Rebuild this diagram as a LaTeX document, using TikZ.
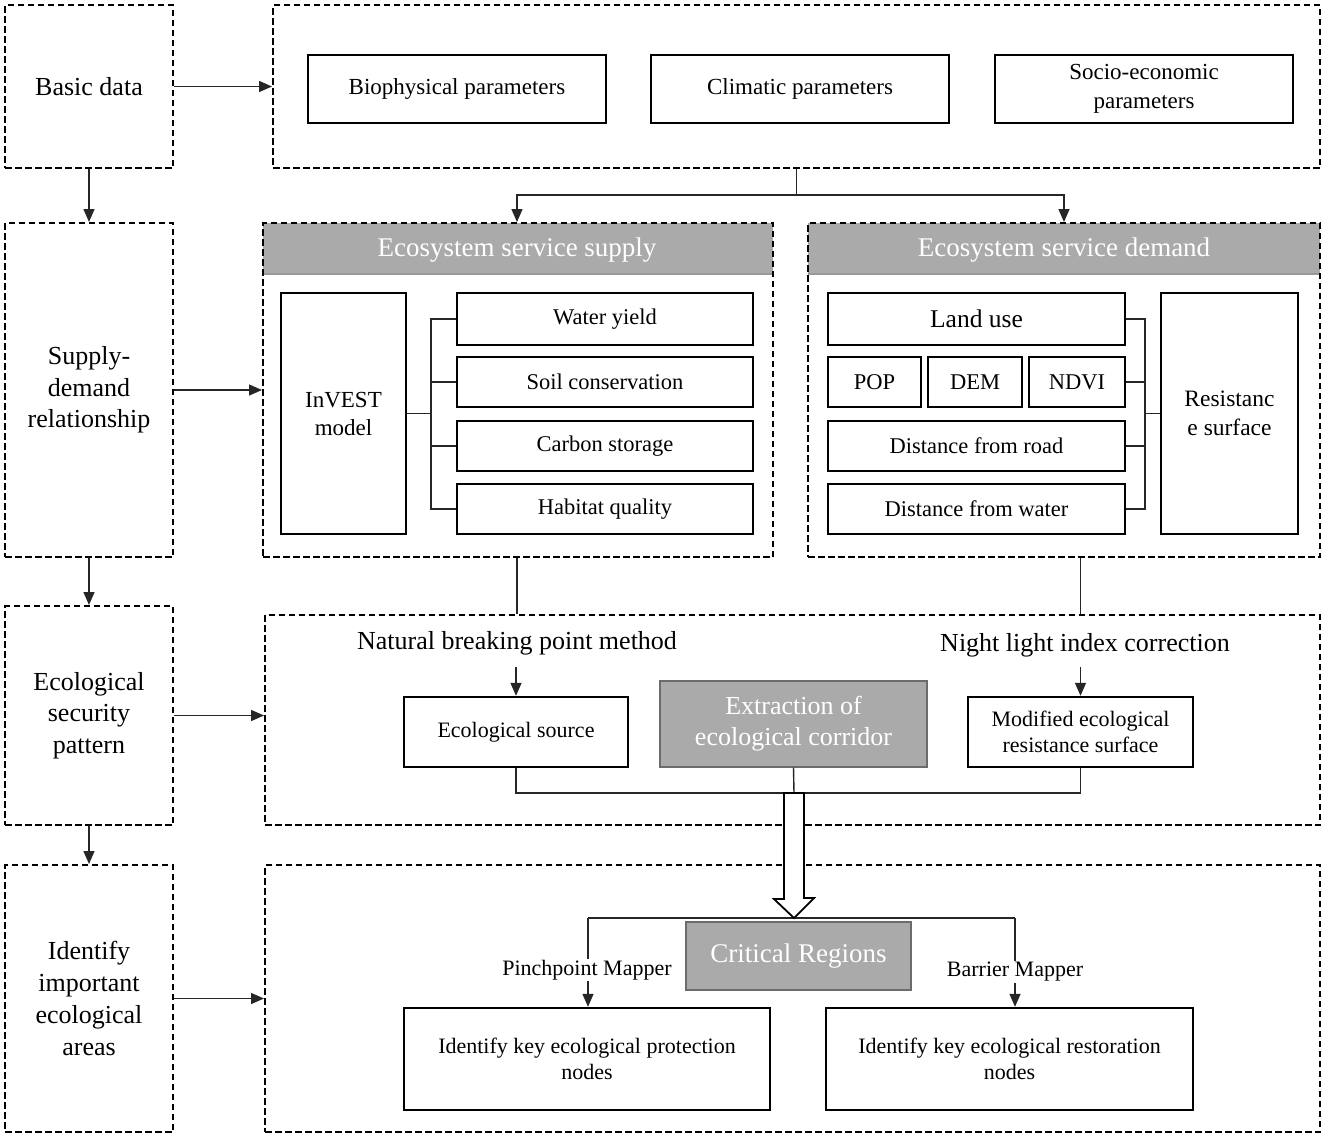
\documentclass[tikz,border=0pt]{standalone}
\usepackage{fontspec}
\setmainfont{Liberation Serif}
\usetikzlibrary{arrows.meta}
\newcommand{\fsz}[1]{\fontsize{#1}{#1}\selectfont}
\begin{document}
\begin{tikzpicture}[x=1pt,y=-1pt,
  dbox/.style={draw, line width=2pt, dash pattern=on 6.5pt off 3.5pt, inner sep=0pt, align=center},
  sbox/.style={draw, line width=2.4pt, inner sep=0pt, align=center},
  gbox/.style={fill=gray!67, draw=gray!85!black, line width=1.4pt, text=white, inner sep=0pt, align=center},
  conn/.style={line width=1.4pt, draw=black!85},
  arr/.style={conn, -{Triangle[length=13pt,width=11pt]}},
  lab/.style={inner sep=0pt, align=center}]
\fill[white] (0,0) rectangle (1325,1138);
\useasboundingbox (0,0) rectangle (1325,1138);

% left column
\node[dbox, minimum width=168pt, minimum height=163pt, font=\fsz{26}] (bd) at (89,86.5) {Basic data};
\node[dbox, minimum width=168pt, minimum height=334pt, font=\fsz{26}] (sd) at (89,390) {Supply-\\[5.5pt]demand\\[5.5pt]relationship};
\node[dbox, minimum width=168pt, minimum height=219pt, font=\fsz{26}] (espl) at (89,715.5) {Ecological\\[5.5pt]security\\[5.5pt]pattern};
\node[dbox, minimum width=168pt, minimum height=267pt, font=\fsz{26}] (iea) at (89,998.5) {Identify\\[6pt]important\\[6pt]ecological\\[6pt]areas};

% top box
\node[dbox, minimum width=1047pt, minimum height=163pt] (top) at (796.5,86.5) {};
\node[sbox, minimum width=298pt, minimum height=68pt, font=\fsz{23}] (bio) at (457,89) {Biophysical parameters};
\node[sbox, minimum width=298pt, minimum height=68pt, font=\fsz{23}] (cli) at (800,89) {Climatic parameters};
\node[sbox, minimum width=298pt, minimum height=68pt, font=\fsz{23}] (soc) at (1144,89) {Socio-economic\\[6pt]parameters};

% supply
\fill[gray!67] (263,223) rectangle (773,274);
\draw[gray!80, line width=1.4pt] (263,274) -- (773,274);
\node[dbox, minimum width=510pt, minimum height=334pt] (sup) at (518,390) {};
\node[lab, text=white, font=\fsz{27}] (suph) at (517,250) {Ecosystem service supply};
\node[sbox, minimum width=125pt, minimum height=241pt, font=\fsz{23}] (inv) at (343.5,413.5) {InVEST\\[5pt]model};
\node[sbox, minimum width=296pt, minimum height=52pt, font=\fsz{22.5}] (wy) at (605,319) {Water yield};
\node[sbox, minimum width=296pt, minimum height=50pt, font=\fsz{22.5}] (sc) at (605,382) {Soil conservation};
\node[sbox, minimum width=296pt, minimum height=50pt, font=\fsz{22.5}] (cs) at (605,446) {Carbon storage};
\node[sbox, minimum width=296pt, minimum height=50pt, font=\fsz{22.5}] (hq) at (605,509) {Habitat quality};
\coordinate (bs) at (431,413.5);
\draw[conn] (inv.east |- bs) -- (bs);
\draw[conn] (wy.west) -| (bs |- wy.west) -- (bs |- hq.west) -- (hq.west);
\draw[conn] (sc.west) -- (bs |- sc.west);
\draw[conn] (cs.west) -- (bs |- cs.west);

% demand
\fill[gray!67] (808,223) rectangle (1320,274);
\draw[gray!80, line width=1.4pt] (808,274) -- (1320,274);
\node[dbox, minimum width=512pt, minimum height=334pt] (dem) at (1064,390) {};
\node[lab, text=white, font=\fsz{27}] (demh) at (1064,250) {Ecosystem service demand};
\node[sbox, minimum width=297pt, minimum height=52pt, font=\fsz{25.5}] (lu) at (976.5,319) {Land use};
\node[sbox, minimum width=93pt, minimum height=50pt, font=\fsz{22.5}] (pop) at (874.5,382) {POP};
\node[sbox, minimum width=94pt, minimum height=50pt, font=\fsz{22.5}] (dm) at (975,382) {DEM};
\node[sbox, minimum width=96pt, minimum height=50pt, font=\fsz{22.5}] (nd) at (1077,382) {NDVI};
\node[sbox, minimum width=297pt, minimum height=50pt, font=\fsz{22.5}] (dr) at (976.5,446) {Distance from road};
\node[sbox, minimum width=297pt, minimum height=50pt, font=\fsz{22.5}] (dw) at (976.5,509) {Distance from water};
\node[sbox, minimum width=137pt, minimum height=241pt, font=\fsz{23.5}] (rs) at (1229.5,413.5) {Resistanc\\[5pt]e surface};
\coordinate (bd2) at (1145,413.5);
\draw[conn] (bd2) -- (rs.west |- bd2);
\draw[conn] (lu.east) -- (bd2 |- lu.east) -- (bd2 |- dw.east) -- (dw.east);
\draw[conn] (nd.east) -- (bd2 |- nd.east);
\draw[conn] (dr.east) -- (bd2 |- dr.east);

% top connectors
\coordinate (j1) at (796.5,195);
\draw[conn] (top.south) -- (j1);
\draw[arr] (j1) -| (suph |- sup.north);
\draw[arr] (j1) -| (demh |- dem.north);
\draw[arr] (bd) -- (bd -| top.west);
\draw[arr] (bd.south) -- (sd.north);
\draw[arr] (sd) -- (sd -| sup.west);

% ecological security pattern
\node[dbox, minimum width=1055pt, minimum height=210pt] (espb) at (792.5,720) {};
\node[sbox, minimum width=224pt, minimum height=70pt, font=\fsz{22}] (src) at (516,732) {Ecological source};
\node[gbox, minimum width=267pt, minimum height=86pt, font=\fsz{26}] (ext) at (793.5,724) {Extraction of\\[5pt]ecological corridor};
\node[sbox, minimum width=225pt, minimum height=70pt, font=\fsz{22}] (mod) at (1080.5,732) {Modified ecological\\[4pt]resistance surface};
\node[lab, font=\fsz{26}] (nbp) at (517,643) {Natural breaking point method};
\node[lab, font=\fsz{26}] (nli) at (1085,645) {Night light index correction};
\draw[conn] (suph |- sup.south) -- (suph |- espb.north);
\draw[conn] (mod.north |- dem.south) -- (mod.north |- espb.north);
\draw[arr] (src.north) ++(0,-29) -- (src.north);
\draw[arr] (mod.north) ++(0,-29) -- (mod.north);
\coordinate (jb) at (794,793);
\draw[conn] (src.south) |- (jb) -| (mod.south);
\draw[conn] (ext.south) -- (jb);
\draw[arr] (espl.east) -- (espl.east -| espb.west);
\draw[arr] (sd.south) -- (espl.north);
\draw[arr] (espl.south) -- (iea.north);

% bottom
\node[dbox, minimum width=1055pt, minimum height=267pt] (bot) at (792.5,998.5) {};
\node[gbox, minimum width=225pt, minimum height=68pt, font=\fsz{27}] (cr) at (798.5,956) {Critical Regions};
\node[sbox, minimum width=366pt, minimum height=102pt, font=\fsz{22}] (prot) at (587,1059) {Identify key ecological protection\\[4pt]nodes};
\node[sbox, minimum width=367pt, minimum height=102pt, font=\fsz{22}] (rest) at (1009.5,1059) {Identify key ecological restoration\\[4pt]nodes};
\coordinate (pl) at (588,918);
\coordinate (pr) at (1015,918);
\draw[conn] (pl) -- (pr);
\draw[arr] (pl) -- (pl |- prot.north);
\draw[arr] (pr) -- (pr |- rest.north);
\node[lab, fill=white, inner sep=1pt, font=\fsz{22}] (pm) at (587,970) {Pinchpoint Mapper};
\node[lab, fill=white, inner sep=1pt, font=\fsz{22}] (bm) at (1015,972) {Barrier Mapper};
\draw[arr] (iea) -- (iea -| bot.west);
% hollow arrow
\draw[line width=1.8pt, fill=white, line join=miter] (jb) ++(-10,0) -- ++(0,106) -- ++(-10,0) -- (794,918) -- ++(20,-20) -- ++(-10,0) -- ++(0,-105) -- cycle;
\end{tikzpicture}
\end{document}
